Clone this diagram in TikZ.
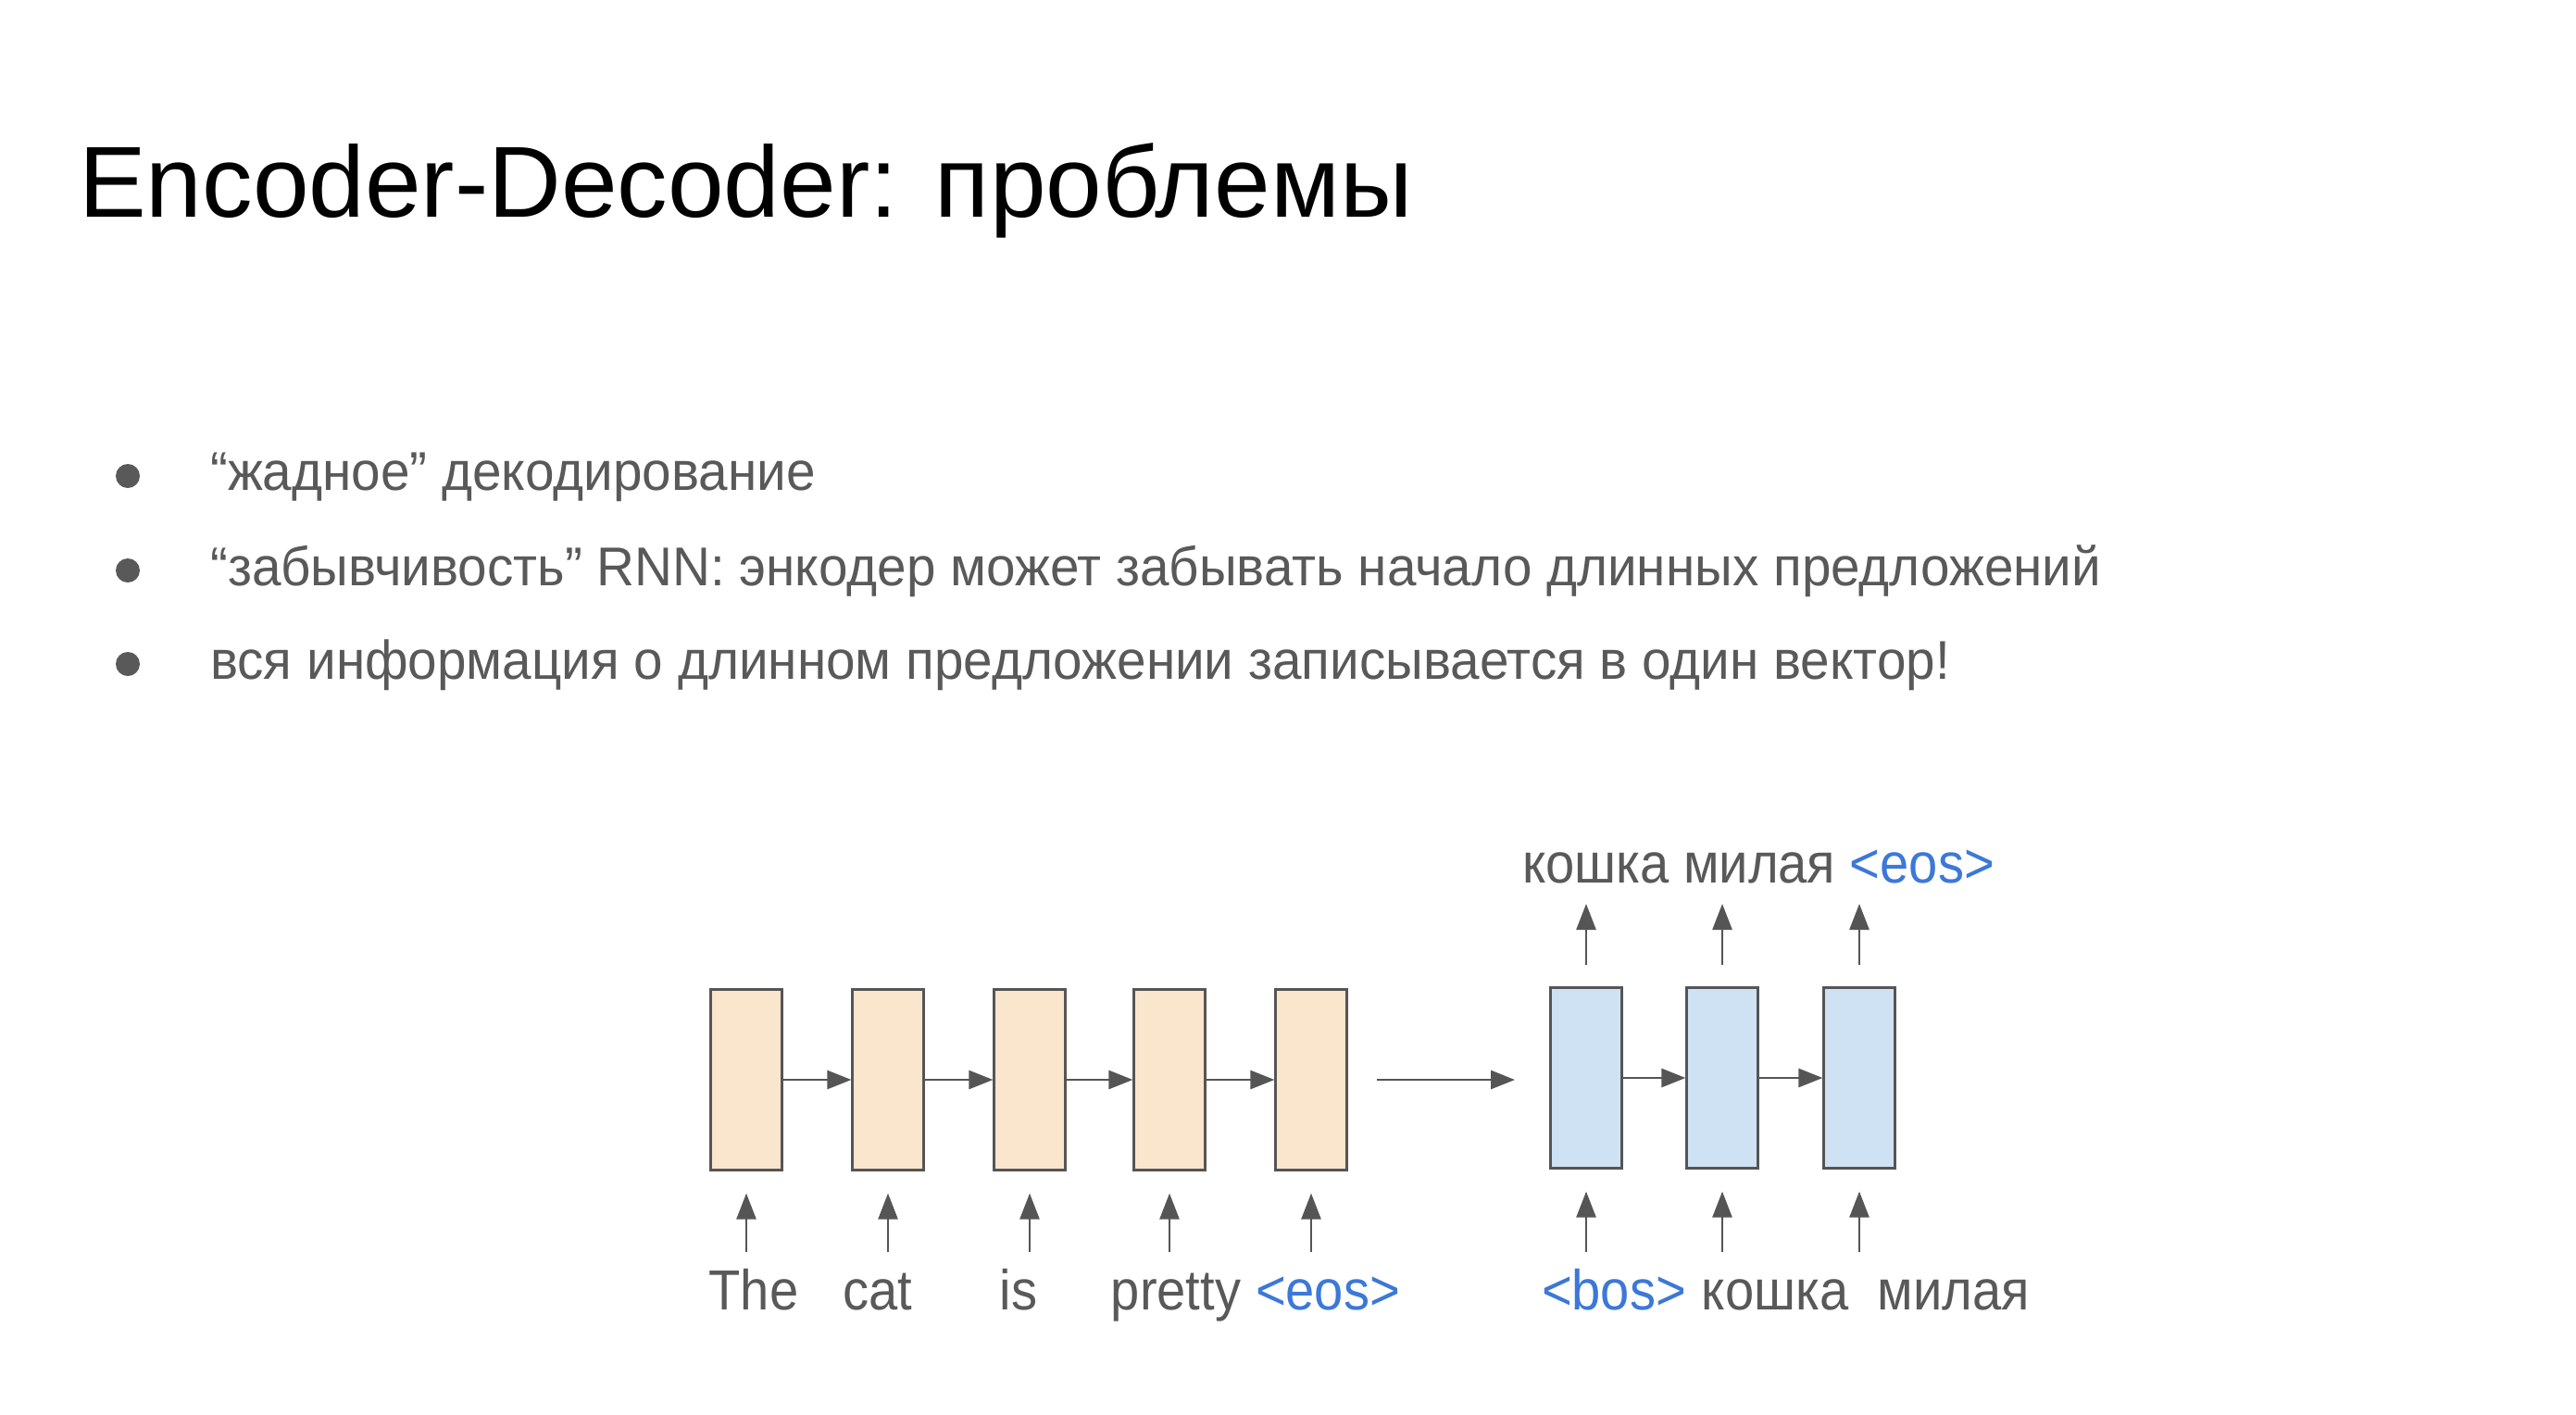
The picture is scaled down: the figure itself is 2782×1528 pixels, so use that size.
\documentclass[tikz,border=0pt]{standalone}
\usepackage{fontspec}
\setmainfont{Liberation Sans}
\newfontfamily\tokfont[FakeStretch=0.92]{Liberation Sans}
\newfontfamily\bulfont[FakeStretch=0.96]{Liberation Sans}
\usetikzlibrary{arrows.meta}
\definecolor{txtgray}{RGB}{89,89,89}
\definecolor{lineg}{RGB}{85,85,85}
\definecolor{encfill}{RGB}{250,229,205}
\definecolor{decfill}{RGB}{207,226,243}
\definecolor{tokblue}{RGB}{60,120,216}
\begin{document}
\begin{tikzpicture}[x=1pt,y=-1pt,
  cell/.style={draw=lineg, line width=2.2pt, minimum width=77pt, minimum height=195pt, inner sep=0pt},
  enc/.style={cell, fill=encfill},
  dec/.style={cell, fill=decfill},
  arr/.style={draw=lineg, line width=2.6pt, -{Triangle[length=28pt,width=21pt]}},
  harr/.style={draw=lineg, line width=2.6pt, -{Triangle[length=26pt,width=20pt]}},
  tok/.style={font=\tokfont\fontsize{61}{70}\selectfont, text=txtgray, inner sep=0pt, anchor=base},
  bul/.style={font=\bulfont\fontsize{59}{70}\selectfont, text=txtgray, inner sep=0pt, anchor=base west},
  bdot/.style={circle, fill=txtgray, minimum size=26pt, inner sep=0pt},
]
\useasboundingbox[fill=white] (0,0) rectangle (2782,1528);

% title
\node[anchor=base west, inner sep=0pt, font=\fontsize{109}{120}\selectfont] (title) at (85,234) {Encoder-Decoder: проблемы};

% bullets
\node[bdot] (b1) at (138,514) {};
\node[bul] (t1) at (227,529) {“жадное” декодирование};
\node[bdot] (b2) at (138,616) {};
\node[bul] (t2) at (227,632) {“забывчивость” RNN: энкодер может забывать начало длинных предложений};
\node[bdot] (b3) at (138,717) {};
\node[bul] (t3) at (227,733) {вся информация о длинном предложении записывается в один вектор!};

% encoder
\node[enc] (e1) at (806,1166) {};
\node[enc] (e2) at (959,1166) {};
\node[enc] (e3) at (1112,1166) {};
\node[enc] (e4) at (1263,1166) {};
\node[enc] (e5) at (1416,1166) {};
\draw[harr] (e1.east) -- (e2.west);
\draw[harr] (e2.east) -- (e3.west);
\draw[harr] (e3.east) -- (e4.west);
\draw[harr] (e4.east) -- (e5.west);

% decoder
\node[dec] (r1) at (1713,1164) {};
\node[dec] (r2) at (1860,1164) {};
\node[dec] (r3) at (2008,1164) {};
\draw[harr] (r1.east) -- (r2.west);
\draw[harr] (r2.east) -- (r3.west);

% long arrow
\coordinate (ls) at (1487,1166);
\coordinate (le) at (1636,1166);
\draw[harr] (ls) -- (le);

% input arrows
\foreach \n/\x in {e1/806,e2/959,e3/1112,e4/1263,e5/1416,r1/1713,r2/1860,r3/2008}{
  \coordinate (i\n) at (\x,1352);
  \draw[arr, shorten >=24pt] (i\n) -- (\n.south);
}
% output arrows
\foreach \n/\x in {r1/1713,r2/1860,r3/2008}{
  \coordinate (o\n) at (\x,976);
  \draw[arr, shorten <=23pt] (\n.north) -- (o\n);
}

% labels
\node[tok] (lThe) at (814,1414) {The};
\node[tok] (lcat) at (948,1414) {cat};
\node[tok] (lis) at (1100,1414) {is};
\node[tok] (lpretty) at (1270,1414) {pretty};
\node[tok, text=tokblue] (leos) at (1434,1414) {<eos>};
\node[tok, text=tokblue] (lbos) at (1743,1414) {<bos>};
\node[tok] (lk) at (1917,1414) {кошка};
\node[tok] (lm) at (2110,1414) {милая};
\node[tok] (top) at (1899,953) {кошка милая \textcolor{tokblue}{<eos>}};
\end{tikzpicture}
\end{document}
